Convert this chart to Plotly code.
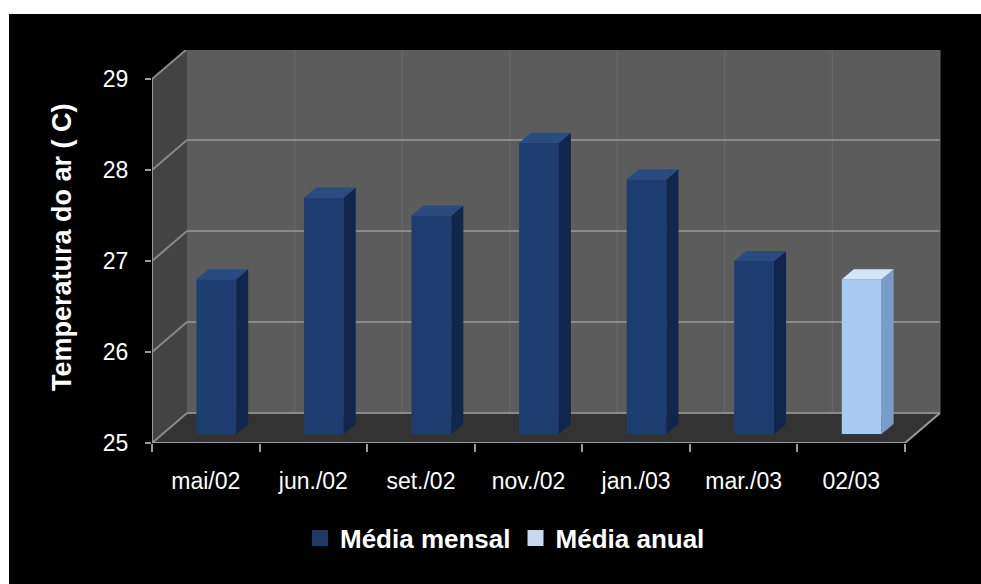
import plotly.graph_objects as go

# ---------------- data ----------------
categories = ["mai/02", "jun./02", "set./02", "nov./02", "jan./03", "mar./03", "02/03"]
media_mensal = [26.7, 27.6, 27.4, 28.2, 27.8, 26.9]      # first six categories
media_anual = [26.7]                                     # last category
y_ticks = [25, 26, 27, 28, 29]

# ---------------- geometry (pixels -> axis units) ----------------
W, H = 981, 584
L, R, T, B = 152, 942, 50, 443          # plot area
PX_X = 107.57                            # pixels per category
PX_Y = 91.0                              # pixels per degree
XMIN = -0.5
XMAX = XMIN + (R - L) / PX_X
YMIN = 25
YMAX = YMIN + (B - T) / PX_Y
DDX, DDY = 35 / PX_X, 30 / PX_Y          # wall depth offset
BX, BY = 0.30 * DDX, 0.30 * DDY          # bar placement depth
SDX, SDY = 12 / PX_X, 10 / PX_Y          # bar thickness
BW = 0.37                                # bar front width
NC = len(categories)
x_lo, x_hi = -0.5, NC - 0.5

FONT = "Liberation Sans, Arial, sans-serif"

fig = go.Figure()

# ---------------- walls (decoration) ----------------
shapes = []
def poly(pts, fill, line=None, lw=0):
    d = "M" + " L".join(f"{x},{y}" for x, y in pts) + " Z"
    return dict(type="path", path=d, xref="x", yref="y", fillcolor=fill,
                line=dict(width=lw, color=line or fill), layer="below")
def seg(x0, y0, x1, y1, color, w):
    return dict(type="line", xref="x", yref="y", x0=x0, y0=y0, x1=x1, y1=y1,
                line=dict(color=color, width=w), layer="below")

# back wall
shapes.append(poly([(x_lo + DDX, YMIN + DDY), (x_hi + DDX, YMIN + DDY),
                    (x_hi + DDX, 29 + DDY), (x_lo + DDX, 29 + DDY)], "#5c5c5c"))
# side wall
shapes.append(poly([(x_lo, YMIN), (x_lo + DDX, YMIN + DDY),
                    (x_lo + DDX, 29 + DDY), (x_lo, 29)], "#434343"))
# floor
shapes.append(poly([(x_lo, YMIN), (x_hi, YMIN),
                    (x_hi + DDX, YMIN + DDY), (x_lo + DDX, YMIN + DDY)], "#333333"))
# vertical back-wall lines
for k in range(1, NC):
    xb = k - 0.5 + DDX
    shapes.append(seg(xb, YMIN + DDY, xb, 29 + DDY, "#666666", 1.5))
# horizontal gridlines (back wall + side wall diagonal)
for v in y_ticks:
    shapes.append(seg(x_lo + DDX, v + DDY, x_hi + DDX, v + DDY, "#8a8a8a", 2))
    shapes.append(seg(x_lo, v, x_lo + DDX, v + DDY, "#8a8a8a", 2))
# front edges
shapes.append(seg(x_lo, YMIN, x_lo, 29, "#9a9a9a", 2))
shapes.append(seg(x_lo, YMIN, x_hi, YMIN, "#9a9a9a", 2))
shapes.append(seg(x_hi, YMIN, x_hi + DDX, YMIN + DDY, "#9a9a9a", 2))
shapes.append(seg(x_hi + DDX, YMIN + DDY, x_hi + DDX, 29 + DDY, "#6a6a6a", 1))
shapes.append(seg(x_lo + DDX, 29 + DDY, x_hi + DDX, 29 + DDY, "#7a7a7a", 2))

# white frame strips (top & left)
shapes.append(dict(type="rect", xref="paper", yref="paper",
                   x0=(0 - L) / (R - L), x1=(W - L) / (R - L),
                   y0=(B - 14) / (B - T), y1=(B - 0) / (B - T),
                   fillcolor="white", line=dict(width=0), layer="above"))
shapes.append(dict(type="rect", xref="paper", yref="paper",
                   x0=(0 - L) / (R - L), x1=(9 - L) / (R - L),
                   y0=(B - H) / (B - T), y1=(B - 0) / (B - T),
                   fillcolor="white", line=dict(width=0), layer="above"))

# ---------------- bars ----------------
def add_series(idx, vals, front, side, top, legend_color, name):
    xs = [i + BX for i in idx]
    base0 = YMIN + BY
    fig.add_trace(go.Bar(x=xs, y=[v - YMIN for v in vals], base=base0, width=BW,
                         marker=dict(color=front, line=dict(width=0)),
                         name=name, showlegend=False, hoverinfo="skip"))
    sx, sy, tx, ty = [], [], [], []
    for x, v in zip(xs, vals):
        xl, xr = x - BW / 2, x + BW / 2
        yt = base0 + v - YMIN
        sx += [xr, xr + SDX, xr + SDX, xr, None]
        sy += [base0, base0 + SDY, yt + SDY, yt, None]
        tx += [xl, xl + SDX, xr + SDX, xr, None]
        ty += [yt, yt + SDY, yt + SDY, yt, None]
    fig.add_trace(go.Scatter(x=sx, y=sy, mode="lines", fill="toself", fillcolor=side,
                             line=dict(width=0, color=side), showlegend=False,
                             hoverinfo="skip"))
    fig.add_trace(go.Scatter(x=tx, y=ty, mode="lines", fill="toself", fillcolor=top,
                             line=dict(width=0, color=top), showlegend=False,
                             hoverinfo="skip"))
    # legend entry
    fig.add_trace(go.Scatter(x=[None], y=[None], mode="markers", name=name,
                             marker=dict(symbol="square", size=16, color=legend_color)))

add_series(list(range(len(media_mensal))), media_mensal,
           "#1d3d71", "#10264b", "#2a4b80", "#1f3864", "Média mensal")
add_series([NC - 1], media_anual,
           "#a9cbf3", "#7b9bc8", "#d2e5fb", "#c6d9f1", "Média anual")

# ---------------- layout ----------------
fig.update_layout(
    width=W, height=H,
    margin=dict(l=L, r=W - R, t=T, b=H - B, pad=0),
    paper_bgcolor="black", plot_bgcolor="rgba(0,0,0,0)",
    barmode="overlay",
    shapes=shapes,
    font=dict(family=FONT, color="white"),
    showlegend=True,
    legend=dict(orientation="h", x=(505 - L) / (R - L), xanchor="center",
                y=(B - 538) / (B - T), yanchor="middle",
                font=dict(size=26, color="white", family=FONT, weight="bold"),
                bgcolor="rgba(0,0,0,0)", itemwidth=30, tracegroupgap=0),
    xaxis=dict(range=[XMIN, XMAX], tickvals=list(range(NC)), ticktext=categories,
               ticks="", showgrid=False, zeroline=False, showline=False,
               tickfont=dict(size=23, color="white", family=FONT),
               ticklabelstandoff=22, fixedrange=True),
    xaxis2=dict(range=[XMIN, XMAX], overlaying="x", anchor="y", side="bottom",
                tickvals=[k - 0.5 for k in range(NC + 1)], showticklabels=False,
                ticks="outside", ticklen=8, tickwidth=2, tickcolor="#9a9a9a",
                showgrid=False, zeroline=False, showline=False),
    yaxis=dict(range=[YMIN, YMAX], tickvals=y_ticks, ticks="outside", ticklen=6,
               tickwidth=2, tickcolor="#9a9a9a", showgrid=False, zeroline=False,
               showline=False, tickfont=dict(size=23, color="white", family=FONT),
               ticklabelstandoff=12, fixedrange=True),
    annotations=[dict(text="<b>Temperatura do ar ( C)</b>", xref="paper", yref="paper",
                      x=(62 - L) / (R - L), y=(B - 247) / (B - T), textangle=-90,
                      showarrow=False, xanchor="center", yanchor="middle",
                      font=dict(size=27, color="white", family=FONT))],
)
# dummy trace so xaxis2 is drawn
fig.add_trace(go.Scatter(x=[None], y=[None], xaxis="x2", yaxis="y", showlegend=False,
                         hoverinfo="skip"))

fig.write_html("out.html")
